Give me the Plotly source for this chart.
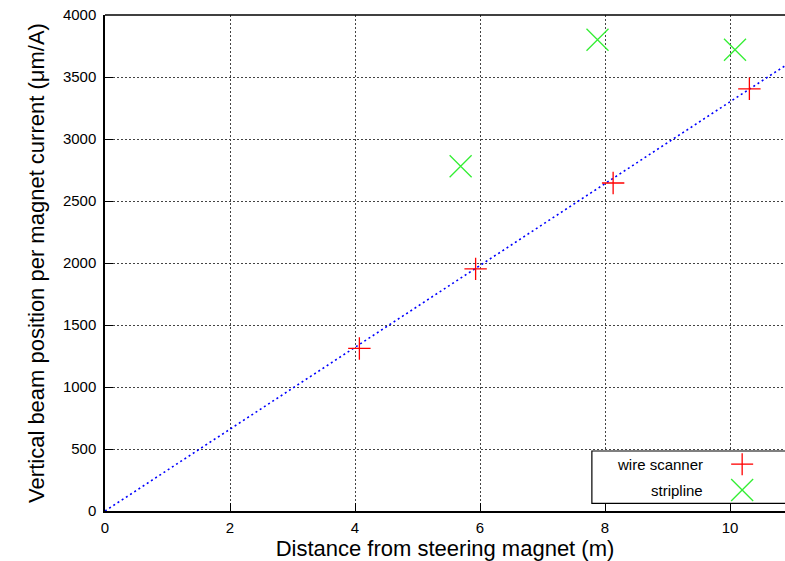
import plotly.graph_objects as go

# Data
wire_x = [4.07, 5.93, 8.13, 10.31]
wire_y = [1311, 1953, 2645, 3405]
strip_x = [5.69, 7.88, 10.08]
strip_y = [2780, 3800, 3720]
fit_x = [0, 11]
fit_y = [0, 3630]

x_ticks = [0, 2, 4, 6, 8, 10]
y_ticks = [0, 500, 1000, 1500, 2000, 2500, 3000, 3500, 4000]

FONT = "Liberation Sans, Arial, sans-serif"

fig = go.Figure()
fig.add_trace(go.Scatter(x=fit_x, y=fit_y, mode="lines",
                         line=dict(color="#0000ff", width=1.6, dash="2px,3px"),
                         showlegend=False, hoverinfo="skip"))
fig.add_trace(go.Scatter(x=wire_x, y=wire_y, mode="markers", name="wire scanner",
                         marker=dict(symbol="cross-thin", size=16,
                                     line=dict(color="#ff0000", width=1.3)),
                         showlegend=False))
fig.add_trace(go.Scatter(x=strip_x, y=strip_y, mode="markers", name="stripline",
                         marker=dict(symbol="x-thin", size=22,
                                     line=dict(color="#33ee33", width=1.3)),
                         showlegend=False))

axis_common = dict(
    showline=True, linecolor="black", linewidth=1.5,
    ticks="inside", ticklen=8, tickcolor="black", tickwidth=1,
    showgrid=True, gridcolor="#444444", gridwidth=1, griddash="2px,2px",
    zeroline=False,
    tickfont=dict(family=FONT, size=15, color="black"),
)

fig.update_xaxes(range=[0, 10.88], tickvals=x_ticks,
                 title=dict(text="Distance from steering magnet (m)",
                            font=dict(family=FONT, size=22, color="black"),
                            standoff=10),
                 ticklabelstandoff=2,
                 **axis_common)
fig.update_yaxes(range=[0, 4000], tickvals=y_ticks,
                 title=dict(text="Vertical beam position per magnet current (μm/A)",
                            font=dict(family=FONT, size=22, color="black"),
                            standoff=12),
                 ticklabelstandoff=4,
                 **axis_common)

# top border line
shapes = [dict(type="line", xref="paper", yref="paper", x0=0, x1=1, y0=1, y1=1,
               line=dict(color="black", width=1.5))]

# gnuplot-style key box
box_x0, box_x1, box_y0, box_y1 = 0.716, 1.02, 0.0155, 0.121
shapes.append(dict(type="rect", xref="paper", yref="paper",
                   x0=box_x0, x1=box_x1, y0=box_y0, y1=box_y1,
                   line=dict(color="black", width=1.2), fillcolor="white", layer="above"))
key_x = 0.937
row_y = [0.0945, 0.0422]
# '+' glyph
for (dx0, dy0, dx1, dy1) in [(-11, 0, 11, 0), (0, -11, 0, 11)]:
    shapes.append(dict(type="line", xref="paper", yref="paper",
                       xsizemode="pixel", ysizemode="pixel",
                       xanchor=key_x, yanchor=row_y[0],
                       x0=dx0, x1=dx1, y0=dy0, y1=dy1,
                       line=dict(color="#ff0000", width=1.3), layer="above"))
# 'x' glyph
for (dx0, dy0, dx1, dy1) in [(-11, -11, 11, 11), (-11, 11, 11, -11)]:
    shapes.append(dict(type="line", xref="paper", yref="paper",
                       xsizemode="pixel", ysizemode="pixel",
                       xanchor=key_x, yanchor=row_y[1],
                       x0=dx0, x1=dx1, y0=dy0, y1=dy1,
                       line=dict(color="#33ee33", width=1.3), layer="above"))

annotations = []
for label, yy in zip(["wire scanner", "stripline"], row_y):
    annotations.append(dict(text=label, xref="paper", yref="paper", x=0.882, y=yy,
                            xanchor="right", yanchor="middle", showarrow=False,
                            font=dict(family=FONT, size=15, color="black")))

fig.update_layout(
    width=785, height=561,
    margin=dict(l=105, r=0, t=15, b=50),
    paper_bgcolor="white", plot_bgcolor="white",
    shapes=shapes, annotations=annotations,
    showlegend=False,
)

fig.write_html("out.html", config={"displayModeBar": False},
               post_script="document.body.style.margin='0';document.body.style.overflow='hidden';")
